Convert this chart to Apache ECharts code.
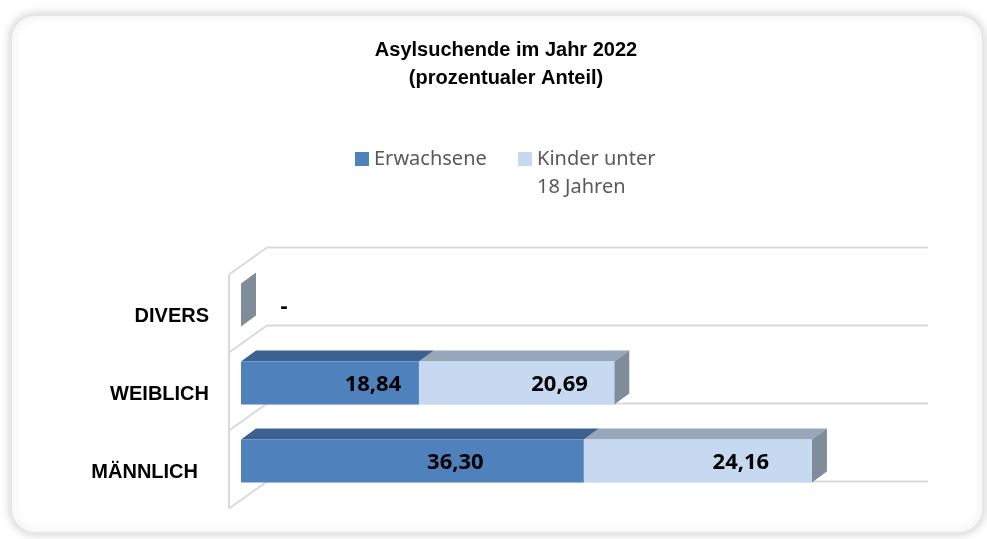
<!DOCTYPE html>
<html>
<head>
<meta charset="utf-8">
<script src="https://cdn.jsdelivr.net/npm/echarts@6/dist/echarts.min.js"></script>
<style>
html, body { margin: 0; padding: 0; background: #fff; }
#ch-main { width: 987px; height: 539px; }
</style>
</head>
<body>
<div id="ch-main"></div>
<script>
// chart values
var categories = ['MÄNNLICH', 'WEIBLICH', 'DIVERS'];
var erwachsene = [36.30, 18.84, 0];
var kinder = [24.16, 20.69, 0];
var seriesNames = ['Erwachsene', 'Kinder unter 18 Jahren'];
var axisMax = 70;

function fmt(v) {
    return v.toFixed(2).replace('.', ',');
}

// stacked segments: [start, end, categoryIndex]
var dataErw = erwachsene.map(function (v, i) { return [0, v, i]; });
var dataKind = kinder.map(function (v, i) { return [erwachsene[i], erwachsene[i] + v, i]; });

// fake 3d: bar depth and wall depth offsets
var BDX = 15, BDY = -11;
var WFX = -12, WFY = 8.5, WBX = 26, WBY = -18.5;

function barRenderer(frontCol, topCol, sideCol, withSide, zeroText) {
    return function (params, api) {
        var cat = api.value(2);
        var a = api.coord([api.value(0), cat]);
        var b = api.coord([api.value(1), cat]);
        var h = api.size([0, 1])[1] * 0.55;
        var y0 = a[1] - h / 2, y1 = a[1] + h / 2;
        var v = api.value(1) - api.value(0);
        var ch = [];
        ch.push({
            type: 'polygon',
            shape: {points: [[a[0], y0], [b[0], y0], [b[0] + BDX, y0 + BDY], [a[0] + BDX, y0 + BDY]]},
            style: {fill: topCol}
        });
        if (withSide) {
            ch.push({
                type: 'polygon',
                shape: {points: [[b[0], y0], [b[0] + BDX, y0 + BDY], [b[0] + BDX, y1 + BDY], [b[0], y1]]},
                style: {fill: sideCol}
            });
        }
        ch.push({
            type: 'rect',
            shape: {x: a[0], y: y0, width: b[0] - a[0], height: h},
            style: {fill: frontCol}
        });
        ch.push({
            type: 'text',
            x: (a[0] + b[0]) / 2 + 43,
            y: a[1] + 2,
            style: {
                text: v === 0 ? zeroText : fmt(v),
                align: 'center',
                verticalAlign: 'middle',
                font: 'bold 22px "Noto Sans"',
                fill: '#000'
            }
        });
        return {type: 'group', children: ch};
    };
}

function wallRenderer(params, api) {
    var c0 = api.coord([0, 0]);
    var xr = api.coord([axisMax, 0])[0];
    var band = api.size([0, 1])[1];
    var xl = c0[0];
    var ch = [];
    var st = {stroke: '#d9d9d9', lineWidth: 2};
    var yb = c0[1] + band / 2;
    var yt = yb - categories.length * band;
    for (var i = 0; i <= categories.length; i++) {
        var y = yb - i * band;
        ch.push({type: 'line', shape: {x1: xl + WBX, y1: y + WBY, x2: xr + WBX, y2: y + WBY}, style: st});
        ch.push({type: 'line', shape: {x1: xl + WFX, y1: y + WFY, x2: xl + WBX, y2: y + WBY}, style: st});
    }
    ch.push({type: 'line', shape: {x1: xl + WFX, y1: yb + WFY, x2: xl + WFX, y2: yt + WFY}, style: st});
    return {type: 'group', children: ch};
}

var legendText = {fontFamily: '"Noto Sans"', fontSize: 20, color: '#595959', lineHeight: 28};
var catFont = {fontFamily: '"Liberation Sans", Arial', fontWeight: 'bold', fontSize: 20, color: '#000', lineHeight: 22};

var myChart = echarts.init(document.getElementById('ch-main'));

var option = {
    animation: false,
    backgroundColor: '#fff',
    graphic: [{
        type: 'rect',
        z: -10,
        shape: {x: 11, y: 15, width: 972, height: 518, r: 24},
        style: {fill: '#fff', stroke: '#e6e6e6', lineWidth: 2, shadowBlur: 10, shadowColor: 'rgba(0,0,0,0.18)'}
    }],
    title: {
        text: 'Asylsuchende im Jahr 2022\n(prozentualer Anteil)',
        left: 501,
        textAlign: 'center',
        top: 31,
        textStyle: {
            fontFamily: '"Liberation Sans", Arial',
            fontWeight: 'bold',
            fontSize: 20,
            lineHeight: 28,
            color: '#000'
        }
    },
    legend: [{
        left: 355,
        top: 145,
        padding: 0,
        itemWidth: 14,
        itemHeight: 14,
        icon: 'rect',
        textStyle: legendText,
        data: [seriesNames[0]]
    }, {
        // square sits at the top of a taller item so it lines up with the first text line
        left: 518,
        top: 145,
        padding: 0,
        itemWidth: 14,
        itemHeight: 42,
        icon: 'path://M0,0H14V14H0Z M0,41.99H0.01V42H0Z',
        formatter: function () { return 'Kinder unter\n18 Jahren'; },
        textStyle: legendText,
        data: [seriesNames[1]]
    }],
    grid: {left: 241, right: 85, top: 266, bottom: 39},
    xAxis: {type: 'value', min: 0, max: axisMax, show: false},
    yAxis: {
        type: 'category',
        data: categories,
        axisLine: {show: false},
        axisTick: {show: false},
        splitLine: {show: false},
        axisLabel: Object.assign({
            margin: 32,
            verticalAlign: 'top',
            formatter: function (v) {
                // bottom label sits a little further left in the original
                return v === categories[0] ? '{m|' + v + '}' : v;
            },
            rich: {m: Object.assign({padding: [0, 11, 0, 0]}, catFont)}
        }, catFont)
    },
    series: [
        {
            type: 'custom',
            name: 'wall',
            silent: true,
            z: 1,
            data: [[0, 0]],
            encode: {x: 0, y: 1},
            renderItem: wallRenderer
        },
        {
            type: 'custom',
            name: seriesNames[0],
            z: 3,
            itemStyle: {color: '#4f81bd'},
            data: dataErw,
            encode: {x: [0, 1], y: 2},
            renderItem: barRenderer('#4f81bd', '#3c6190', '#3c6190', false, '-')
        },
        {
            type: 'custom',
            name: seriesNames[1],
            z: 2,
            itemStyle: {color: '#c6d9f1'},
            data: dataKind,
            encode: {x: [0, 1], y: 2},
            renderItem: barRenderer('#c6d9f1', '#97a6b8', '#7f8c99', true, '')
        }
    ]
};

myChart.setOption(option);
</script>
</body>
</html>
